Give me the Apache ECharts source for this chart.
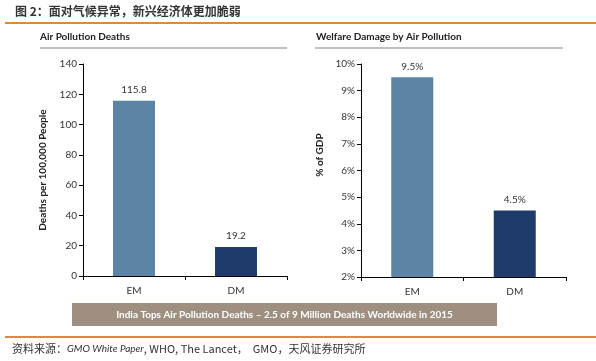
<!DOCTYPE html>
<html><head><meta charset="utf-8">
<script src="https://cdn.jsdelivr.net/npm/echarts@6/dist/echarts.min.js"></script>
<style>html,body{margin:0;padding:0;background:#fff}#c{width:596px;height:361px}</style>
</head><body><div id="c"></div>
<script>
const categories = ['EM', 'DM'];
const deathsValues = [115.8, 19.2];
const welfareValues = [9.5, 4.5];
const deathsLabels = ['115.8', '19.2'];
const welfareLabels = ['9.5%', '4.5%'];
const barColors = ['#5b84a6', '#1f3b6b'];

const font = 'Lato, "Open Sans", sans-serif';
const chart = echarts.init(document.getElementById('c'), null, {renderer: 'canvas'});

function barData(vals, labels) {
  return vals.map((v, i) => ({value: v, itemStyle: {color: barColors[i]}, label: {formatter: labels[i]}}));
}
const axisLineStyle = {show: true, lineStyle: {color: '#000', width: 1}};
const tickLabel = {color: '#333', fontSize: 10, fontFamily: font};

chart.setOption({
  animation: false,
  grid: [
    {left: 83, right: 309, top: 64, bottom: 85},
    {left: 361, right: 30, top: 64, bottom: 84}
  ],
  xAxis: [
    {type: 'category', gridIndex: 0, data: categories, axisLine: axisLineStyle,
     axisTick: {show: true, length: 4, lineStyle: {color: '#000'}}, axisLabel: Object.assign({margin: 10}, tickLabel)},
    {type: 'category', gridIndex: 1, data: categories, axisLine: axisLineStyle,
     axisTick: {show: true, length: 4, lineStyle: {color: '#000'}}, axisLabel: Object.assign({margin: 10}, tickLabel)}
  ],
  yAxis: [
    {type: 'value', gridIndex: 0, min: 0, max: 140, interval: 20, axisLine: axisLineStyle,
     axisTick: {show: true, length: 4, lineStyle: {color: '#000'}}, splitLine: {show: false},
     axisLabel: Object.assign({margin: 6}, tickLabel),
     name: 'Deaths per 100,000 People', nameLocation: 'middle', nameGap: 35,
     nameTextStyle: {fontSize: 10, fontWeight: 'bold', color: '#222', fontFamily: font}},
    {type: 'value', gridIndex: 1, min: 2, max: 10, interval: 1, axisLine: axisLineStyle,
     axisTick: {show: true, length: 4, lineStyle: {color: '#000'}}, splitLine: {show: false},
     axisLabel: Object.assign({margin: 6, formatter: '{value}%'}, tickLabel)}
  ],
  series: [
    {type: 'bar', xAxisIndex: 0, yAxisIndex: 0, barWidth: 42, data: barData(deathsValues, deathsLabels),
     label: {show: true, position: 'top', distance: 6, color: '#333', fontSize: 10, fontFamily: font}},
    {type: 'bar', xAxisIndex: 1, yAxisIndex: 1, barWidth: 42, data: barData(welfareValues, welfareLabels),
     label: {show: true, position: 'top', distance: 6, color: '#333', fontSize: 10, fontFamily: font}}
  ],
  graphic: [
    {type: 'text', left: 15, top: 5, style: {text: '图 2：面对气候异常，新兴经济体更加脆弱', fontSize: 12, fontWeight: 'bold', fill: '#333', fontFamily: '"Noto Sans CJK SC", sans-serif'}},
    {type: 'line', shape: {x1: 5, y1: 23, x2: 596, y2: 23}, style: {stroke: '#e0883a', lineWidth: 2}},
    {type: 'text', left: 40, top: 32, style: {text: 'Air Pollution Deaths', fontSize: 10, fontWeight: 'bold', fill: '#222', fontFamily: font}},
    {type: 'line', shape: {x1: 40, y1: 48, x2: 287, y2: 48}, style: {stroke: '#aaa', lineWidth: 1.5}},
    {type: 'text', left: 316, top: 32, style: {text: 'Welfare Damage by Air Pollution', fontSize: 10, fontWeight: 'bold', fill: '#222', fontFamily: font}},
    {type: 'line', shape: {x1: 315, y1: 48, x2: 563, y2: 48}, style: {stroke: '#aaa', lineWidth: 1.5}},
    {type: 'text', x: 320, y: 155, rotation: Math.PI / 2, style: {text: '% of GDP', fontSize: 10, fontWeight: 'bold', fill: '#222', fontFamily: font, align: 'center', verticalAlign: 'middle'}},
    {type: 'rect', shape: {x: 72, y: 303, width: 425, height: 23}, style: {fill: '#9e8f81'}},
    {type: 'text', x: 284.5, y: 314.5, style: {text: 'India Tops Air Pollution Deaths \u2013 2.5 of 9 Million Deaths Worldwide in 2015', fontSize: 10, fontWeight: 'bold', fill: '#fff', fontFamily: font, align: 'center', verticalAlign: 'middle'}},
    {type: 'line', shape: {x1: 5, y1: 337, x2: 596, y2: 337}, style: {stroke: '#e0883a', lineWidth: 2}},
    {type: 'text', left: 12, top: 343, style: {
      text: '{a|资料来源：}{b|GMO White Paper}{a|, WHO, The Lancet，  GMO，天风证券研究所}',
      rich: {
        a: {fontSize: 11, fill: '#333', fontFamily: '"Noto Sans CJK SC", sans-serif'},
        b: {fontSize: 10, fill: '#333', fontStyle: 'italic', fontFamily: font}
      }}}
  ]
});
</script></body></html>
